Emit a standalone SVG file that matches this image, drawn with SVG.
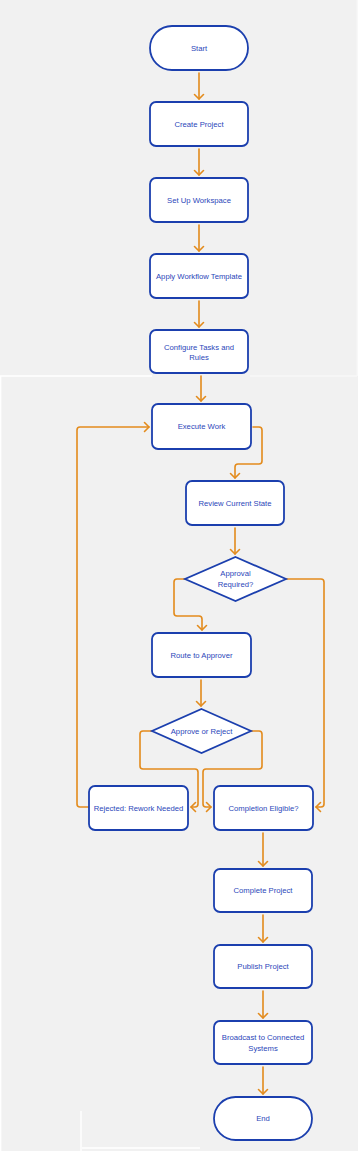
<svg xmlns="http://www.w3.org/2000/svg" width="358" height="1151" viewBox="0 0 358 1151">
<style>
.n{fill:#ffffff;stroke:#1b3fae;stroke-width:1.8}
.t{font-family:"Liberation Sans",Arial,sans-serif;font-size:7.7px;fill:#2b46b9;text-anchor:middle;dominant-baseline:central}
.c{fill:none;stroke:#e38b1c;stroke-width:1.6;stroke-linejoin:round;stroke-linecap:round}
.w{stroke:#ffffff;stroke-width:1.4;fill:none}
</style>
<defs>
<marker id="ah" markerUnits="userSpaceOnUse" markerWidth="12" markerHeight="12" viewBox="0 0 12 12" refX="6" refY="6" orient="auto">
<path d="M1.5,1.5 L6,6 L1.5,10.5" fill="none" stroke="#e38b1c" stroke-width="1.6" stroke-linecap="round" stroke-linejoin="round"/>
</marker>
</defs>
<rect x="0" y="0" width="358" height="1151" fill="#f1f1f1"/>
<path class="w" d="M0,376 H152 M0.7,376 V1151 M81,1111 V1151 M82,1148 H200"/>
<path class="w" opacity="0.5" d="M250,376 H357 M357.3,0 V376"/>
<g id="connectors">
<path class="c" marker-end="url(#ah)" d="M199,73 V99"/>
<path class="c" marker-end="url(#ah)" d="M199,149 V175"/>
<path class="c" marker-end="url(#ah)" d="M199,225 V251"/>
<path class="c" marker-end="url(#ah)" d="M199,301 V327"/>
<path class="c" marker-end="url(#ah)" d="M201,376 V401"/>
<path class="c" marker-end="url(#ah)" d="M253,427 H259 Q262,427 262,430 V461 Q262,464 259,464 H238 Q235,464 235,467 V478"/>
<path class="c" marker-end="url(#ah)" d="M235,528 V554"/>
<path class="c" marker-end="url(#ah)" d="M185,579 H177 Q174,579 174,582 V613 Q174,616 177,616 H199 Q202,616 202,619 V630"/>
<path class="c" marker-end="url(#ah)" d="M286,579 H321 Q324,579 324,582 V804 Q324,807 321,807 H316"/>
<path class="c" marker-end="url(#ah)" d="M201,680 V706"/>
<path class="c" marker-end="url(#ah)" d="M152,731 H143 Q140,731 140,734 V766 Q140,769 143,769 H195 Q198,769 198,772 V804 Q198,807 195,807 H191"/>
<path class="c" marker-end="url(#ah)" d="M251,731 H259 Q262,731 262,734 V766 Q262,769 259,769 H206 Q203,769 203,772 V804 Q203,807 206,807 H211"/>
<path class="c" marker-end="url(#ah)" d="M89,807 H80 Q77,807 77,804 V430 Q77,427 80,427 H149"/>
<path class="c" marker-end="url(#ah)" d="M263,833 V866"/>
<path class="c" marker-end="url(#ah)" d="M263,915 V942"/>
<path class="c" marker-end="url(#ah)" d="M263,991 V1018"/>
<path class="c" marker-end="url(#ah)" d="M263,1067 V1094"/>
</g>
<g id="start"><rect class="n" x="150" y="26" width="98" height="44" rx="22"/><text class="t" x="199" y="48">Start</text></g>
<g id="create"><rect class="n" x="150" y="102" width="98" height="44" rx="6"/><text class="t" x="199" y="124">Create Project</text></g>
<g id="setup"><rect class="n" x="150" y="178" width="98" height="44" rx="6"/><text class="t" x="199" y="200">Set Up Workspace</text></g>
<g id="apply"><rect class="n" x="150" y="254" width="98" height="44" rx="6"/><text class="t" x="199" y="276">Apply Workflow Template</text></g>
<g id="configure"><rect class="n" x="150" y="330" width="98" height="43" rx="6"/><text class="t" x="199" y="347">Configure Tasks and</text><text class="t" x="199" y="357.5">Rules</text></g>
<g id="execute"><rect class="n" x="152" y="404" width="99" height="45" rx="6"/><text class="t" x="201.5" y="426.5">Execute Work</text></g>
<g id="review"><rect class="n" x="186" y="481" width="98" height="44" rx="6"/><text class="t" x="235" y="503">Review Current State</text></g>
<g id="approval"><polygon class="n" points="235.5,557 286,579 235.5,601 185,579"/><text class="t" x="235.5" y="573.5">Approval</text><text class="t" x="235.5" y="584.5">Required?</text></g>
<g id="route"><rect class="n" x="152" y="633" width="99" height="44" rx="6"/><text class="t" x="201.5" y="655">Route to Approver</text></g>
<g id="decision"><polygon class="n" points="201.5,709 251,731 201.5,753 152,731"/><text class="t" x="201.5" y="731">Approve or Reject</text></g>
<g id="rejected"><rect class="n" x="89" y="786" width="99" height="44" rx="6"/><text class="t" x="138.5" y="808">Rejected: Rework Needed</text></g>
<g id="eligible"><rect class="n" x="214" y="786" width="99" height="44" rx="6"/><text class="t" x="263.5" y="808">Completion Eligible?</text></g>
<g id="complete"><rect class="n" x="214" y="869" width="98" height="43" rx="6"/><text class="t" x="263" y="890.5">Complete Project</text></g>
<g id="publish"><rect class="n" x="214" y="945" width="98" height="43" rx="6"/><text class="t" x="263" y="966.5">Publish Project</text></g>
<g id="broadcast"><rect class="n" x="214" y="1021" width="98" height="43" rx="6"/><text class="t" x="263" y="1037.5">Broadcast to Connected</text><text class="t" x="263" y="1048">Systems</text></g>
<g id="end"><rect class="n" x="214" y="1097" width="98" height="43" rx="21.5"/><text class="t" x="263" y="1118.5">End</text></g>
</svg>
